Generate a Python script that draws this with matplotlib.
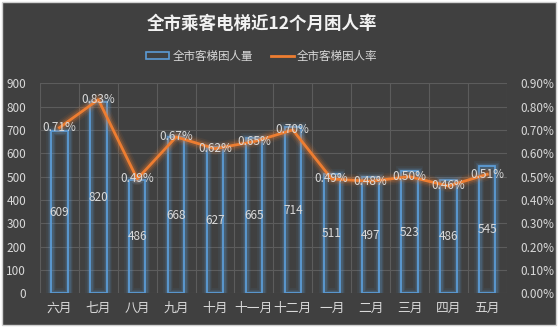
import matplotlib
matplotlib.use("Agg")
import matplotlib.pyplot as plt
from matplotlib.patches import Rectangle, Patch
from matplotlib.lines import Line2D
from matplotlib.ticker import FuncFormatter, MultipleLocator

plt.rcParams['font.family'] = ['Noto Sans CJK SC', 'DejaVu Sans']

months = ["六月", "七月", "八月", "九月", "十月", "十一月", "十二月", "一月", "二月", "三月", "四月", "五月"]
counts = [695, 820, 486, 668, 627, 665, 714, 511, 497, 523, 486, 545]
count_labels = ["609", "820", "486", "668", "627", "665", "714", "511", "497", "523", "486", "545"]
rates = [0.71, 0.83, 0.49, 0.67, 0.62, 0.65, 0.70, 0.49, 0.48, 0.50, 0.46, 0.51]

title = "全市乘客电梯近12个月困人率"
bar_name = "全市客梯困人量"
line_name = "全市客梯困人率"

BG = "#404040"
BLUE = "#5b9bd5"
ORANGE = "#ed7d31"
TXT = "#d9d9d9"
GRID = "#5c5c5c"

W, H = 559, 328
fig = plt.figure(figsize=(W / 100, H / 100), dpi=100, facecolor="white")
fig.patches.append(Rectangle((2 / W, 3 / H), 554 / W, 323 / H, transform=fig.transFigure,
                             facecolor=BG, edgecolor="#d0d0d0", linewidth=1, zorder=-10))

ax = fig.add_axes([40 / W, (H - 293.3) / H, 466.7 / W, 210 / H])
ax.set_facecolor(BG)
ax.patch.set_alpha(0)
x = list(range(len(months)))

# bar glow
for lw, a in [(7, 0.08), (5, 0.12), (3.5, 0.18)]:
    ax.bar(x, counts, width=0.42, facecolor="none", edgecolor=BLUE, linewidth=lw, alpha=a, zorder=2)
ax.bar(x, counts, width=0.42, facecolor="none", edgecolor=BLUE, linewidth=1.3, zorder=3)
for xi, v, lab in zip(x, counts, count_labels):
    ax.text(xi, v / 2, lab, ha="center", va="center", color=TXT, fontsize=8.5, zorder=6)

ax.set_xlim(-0.5, len(months) - 0.5)
ax.set_ylim(0, 900)
ax.yaxis.set_major_locator(MultipleLocator(100))
ax.set_xticks(x)
ax.set_xticklabels(months)
ax.set_xticks([i - 0.5 for i in range(len(months) + 1)], minor=True)
ax.grid(True, which="major", axis="y", color=GRID, linewidth=0.8, zorder=0)
ax.grid(True, which="minor", axis="x", color=GRID, linewidth=0.8, zorder=0)
ax.tick_params(which="both", length=0)
ax.tick_params(axis="y", colors=TXT, labelsize=8.5, pad=10)
ax.tick_params(axis="x", colors=TXT, labelsize=9.2, pad=6)
for s in ax.spines.values():
    s.set_visible(False)
ax.set_axisbelow(True)

ax2 = ax.twinx()
ax2.set_ylim(0, 0.9)
ax2.yaxis.set_major_locator(MultipleLocator(0.1))
ax2.yaxis.set_major_formatter(FuncFormatter(lambda v, p: f"{v:.2f}%"))
ax2.tick_params(length=0, colors=TXT, labelsize=8.5, pad=10)
for s in ax2.spines.values():
    s.set_visible(False)
for lw, a in [(9, 0.07), (6.5, 0.12), (4.5, 0.2)]:
    ax2.plot(x, rates, color=ORANGE, linewidth=lw, alpha=a, solid_joinstyle="round",
             solid_capstyle="round", zorder=3)
ax2.plot(x, rates, color=ORANGE, linewidth=2, zorder=4)
for xi, r in zip(x, rates):
    ax2.text(xi, r, f"{r:.2f}%", ha="center", va="center", color=TXT, fontsize=8.5, zorder=6)

fig.text(262 / W, 1 - 24 / H, title, ha="center", va="center", color="#f2f2f2",
         fontsize=12.6, fontweight="bold")

handles = [Patch(facecolor="none", edgecolor=BLUE, linewidth=1.2),
           Line2D([], [], color=ORANGE, linewidth=2)]
leg = fig.legend(handles, [bar_name, line_name], loc="center", ncol=2,
                 bbox_to_anchor=(262 / W, 1 - 56 / H), frameon=False, fontsize=8.3,
                 handlelength=2.0, handleheight=0.55, columnspacing=1.6, handletextpad=0.25)
for t in leg.get_texts():
    t.set_color(TXT)

fig.savefig("out.png", dpi=100, facecolor="white")
